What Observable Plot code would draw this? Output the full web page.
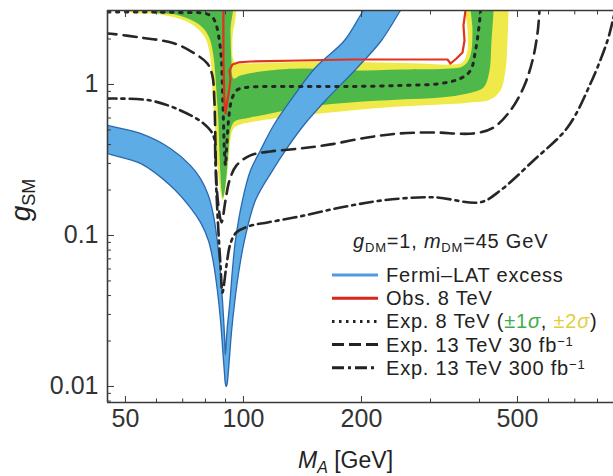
<!DOCTYPE html>
<html><head><meta charset="utf-8">
<script src="https://cdn.jsdelivr.net/npm/d3@7"></script>
<script src="https://cdn.jsdelivr.net/npm/@observablehq/plot@0.6"></script>
<style>
html,body{margin:0;padding:0;background:#fff;}
#wrap{position:relative;width:613px;height:476px;font-family:"Liberation Sans",Arial,sans-serif;}
#overlay{position:absolute;left:0;top:0;pointer-events:none;}
</style></head><body><div id="wrap"></div>
<script>
// ---- axis data ----
const xDomain = [45, 878.8];
const yDomain = [0.00783, 3.09];
const xMajor = [50, 100, 200, 500];
const xMinor = [60, 70, 80, 90, 300, 400, 600, 700, 800];
const yMajor = [0.01, 0.1, 1];
const yMinor = [0.008, 0.009, 0.02, 0.03, 0.04, 0.05, 0.06, 0.07, 0.08, 0.09, 0.2, 0.3, 0.4, 0.5, 0.6, 0.7, 0.8, 0.9, 2, 3];

// ---- curves: [M_A (GeV), g_SM] ----
const yellowBand = [
[50.6,4],[50.6,3.09],[61.4,2.908],[70.7,2.65],[76.3,2.349],[80.0,2.02],[81.9,1.629],[82.9,1.238],[83.3,0.913],[84.3,0.577],[85.3,0.366],[86.3,0.250],[87.4,0.193],[88.4,0.171],[89.4,0.184],[90.5,0.231],[91.6,0.314],[92.6,0.426],[94.3,0.511],[98.2,0.543],[110.5,0.577],[139.8,0.623],[187.5,0.673],[251.5,0.715],[318.1,0.737],[379.4,0.760],[426.7,0.796],[452.5,0.913],[466.0,1.238],[471.5,1.956],[474.2,3.09],[474.2,4],
[372.8,4],[372.8,2.28],[372.8,1.680],[362.0,1.399],[337.4,1.356],[282.8,1.377],[223.6,1.399],[166.7,1.420],[124.3,1.399],[101.2,1.377],[96.0,1.377],[94.3,1.442],[93.7,1.956],[93.7,4]
];
const greenBand = [
[57.9,4],[57.9,3.09],[67.1,2.908],[74.1,2.65],[79.1,2.349],[81.9,2.02],[83.8,1.556],[84.8,1.147],[85.3,0.913],[86.3,0.577],[86.8,0.366],[87.4,0.250],[87.9,0.199],[88.6,0.177],[89.4,0.193],[90.5,0.250],[91.6,0.366],[92.6,0.496],[94.85,0.569],[101.2,0.595],[117.2,0.643],[139.8,0.704],[187.5,0.760],[251.5,0.796],[318.1,0.820],[372.8,0.872],[409.5,0.955],[424.2,1.238],[429.2,1.956],[434.3,3.09],[434.3,4],
[383.9,4],[383.9,2.279],[381.6,1.680],[375.0,1.442],[362.0,1.316],[337.4,1.276],[251.5,1.257],[187.5,1.238],[139.8,1.276],[110.5,1.219],[98.2,1.147],[94.3,1.096],[93.2,1.442],[92.65,2.279],[92.65,4]
];
const fermiLeftHi = [[44,0.545],[45,0.535],[54.6,0.474],[65.1,0.377],[73.2,0.291],[77.7,0.238],[81.4,0.184],[84.3,0.126],[86.8,0.0683],[88.4,0.0371],[89.5,0.0215],[89.9,0.0162]];
const fermiRightHi = [[90.8,0.0235],[92.4,0.0371],[93.7,0.0586],[95.4,0.0927],[99.4,0.171],[104.2,0.269],[110.5,0.366],[119.3,0.535],[131.8,0.783],[152.7,1.296],[181,1.956],[202.3,3.09],[218,4]];
const fermiRightLo = [[90.4,0.0100],[90.9,0.0105],[91.5,0.0125],[92.2,0.0160],[93.3,0.0235],[95.1,0.0371],[97.4,0.0586],[100.6,0.0927],[107.3,0.171],[118.6,0.269],[128.0,0.366],[142.3,0.535],[161.9,0.783],[195.4,1.296],[224.9,1.956],[251.5,3.09],[268.6,4]];
const fermiLeftLo = [[44,0.36],[45,0.349],[54.6,0.300],[65.1,0.214],[73.2,0.153],[77.7,0.122],[81.4,0.0927],[83.8,0.0663],[85.8,0.0432],[87.4,0.0274],[88.6,0.0170],[89.4,0.0125],[89.9,0.0105]];
const obs8 = [[88.9,4],[88.9,1.442],[89.4,0.783],[90.0,0.643],[91.0,0.783],[92.1,0.941],[92.65,1.096],[92.1,1.238],[93.7,1.356],[97.1,1.399],[104.2,1.420],[139.8,1.442],[187.5,1.464],[251.5,1.464],[331.5,1.464],[337.4,1.377],[349.5,1.486],[362.0,1.629],[366.3,1.956],[364.1,2.459],[368.4,3.09],[368.4,4]];
const exp8 = [[45,3.02],[69.1,3.0],[80.0,2.95],[83.3,2.80],[85.3,2.46],[86.8,1.956],[87.9,1.442],[88.4,0.913],[88.9,0.577],[89.4,0.366],[90.0,0.291],[90.5,0.366],[91.6,0.577],[93.2,0.783],[96.0,0.913],[101.2,0.955],[117.2,0.970],[139.8,0.970],[187.5,0.970],[251.5,0.985],[318.1,1.015],[357.7,1.096],[379.4,1.238],[390.7,1.680],[397.7,2.279],[402.3,3.09],[402.3,4]];
const exp13_30 = [[44,2.18],[45,2.177],[54.6,2.047],[66.7,1.869],[75.0,1.604],[80.9,1.377],[83.3,1.147],[84.3,0.783],[84.8,0.426],[85.3,0.231],[86.3,0.158],[87.9,0.122],[90.0,0.171],[92.1,0.231],[96.0,0.291],[104.2,0.339],[117.2,0.360],[139.8,0.377],[166.7,0.401],[207.1,0.446],[251.5,0.474],[305.3,0.481],[386.1,0.474],[434.3,0.519],[479.8,0.673],[518.1,0.955],[546.1,1.442],[562.3,2.177],[569.0,3.09],[572.4,4]];
const exp13_300 = [[44,0.81],[45,0.808],[57.9,0.783],[69.1,0.673],[79.1,0.552],[83.8,0.459],[84.8,0.314],[85.3,0.199],[86.3,0.108],[87.4,0.0633],[88.4,0.0419],[90.5,0.0633],[92.65,0.0885],[96.0,0.105],[104.2,0.116],[115.2,0.122],[139.8,0.134],[176.8,0.153],[227.6,0.171],[305.3,0.179],[402.3,0.166],[452.5,0.199],[549.4,0.314],[670.7,0.519],[767.7,1.015],[848.4,1.956],[878.8,2.778],[894.3,3.336]];

// ---- build ----
const pts = arr => arr.map(([M, g]) => ({M, g}));
const fermiBand = [...fermiLeftHi, ...fermiRightHi, ...fermiRightLo.slice().reverse(), ...fermiLeftLo.slice().reverse()];
const ink = "#3a3a3a";
const noLabel = () => "";

const chart = Plot.plot({
  width: 613, height: 476,
  marginLeft: 107, marginRight: 0, marginTop: 10, marginBottom: 74,
  style: {fontFamily: "'Liberation Sans', Arial, sans-serif", fontSize: "25px", background: "white", color: "#333", overflow: "visible"},
  x: {type: "log", domain: xDomain},
  y: {type: "log", domain: yDomain},
  marks: [
    Plot.line(pts(yellowBand), {x: "M", y: "g", fill: "#efe94a", stroke: "none", curve: "catmull-rom-closed", clip: true}),
    Plot.line(pts(greenBand), {x: "M", y: "g", fill: "#4fb84a", stroke: "none", curve: "catmull-rom-closed", clip: true}),
    Plot.line(pts(fermiBand), {x: "M", y: "g", fill: "#5eace6", stroke: "#2a68ae", strokeWidth: 1.3, curve: "catmull-rom-closed", clip: true}),
    Plot.line(pts(exp13_30), {x: "M", y: "g", stroke: "#262626", strokeWidth: 2.6, strokeDasharray: "13,7", curve: "catmull-rom", clip: true}),
    Plot.line(pts(exp13_300), {x: "M", y: "g", stroke: "#262626", strokeWidth: 2.6, strokeDasharray: "13,5,3,5", curve: "catmull-rom", clip: true}),
    Plot.line(pts(exp8), {x: "M", y: "g", stroke: "#262626", strokeWidth: 3, strokeDasharray: "2.5,6.5", curve: "catmull-rom", clip: true}),
    Plot.line(pts(obs8), {x: "M", y: "g", stroke: "#e2321c", strokeWidth: 2.2, curve: "linear", clip: true}),
    Plot.ruleX([xDomain[0]], {stroke: ink, strokeWidth: 1.6}),
    Plot.ruleY(yDomain, {stroke: ink, strokeWidth: 1.6}),
    Plot.axisX(xMajor, {anchor: "bottom", ticks: xMajor, tickSize: -6, tickPadding: 13, text: d => String(d), label: null, stroke: ink}),
    Plot.axisX(xMinor, {anchor: "bottom", tickSize: -3.5, tickFormat: noLabel, label: null, stroke: ink}),
    Plot.axisX(xMajor, {anchor: "top", tickSize: -6, tickFormat: noLabel, label: null, stroke: ink}),
    Plot.axisX(xMinor, {anchor: "top", tickSize: -3.5, tickFormat: noLabel, label: null, stroke: ink}),
    Plot.axisY(yMajor, {anchor: "left", ticks: yMajor, tickSize: -7, tickPadding: 16, text: d => String(d), label: null, stroke: ink}),
    Plot.axisY(yMinor, {anchor: "left", tickSize: -4, tickFormat: noLabel, label: null, stroke: ink})
  ]
});

const wrap = document.getElementById("wrap");
wrap.appendChild(chart);

// ---- overlay: axis titles and legend ----
const legendRows = [
  {y: 275, stroke: "#4e9be0", width: 3, dash: null},
  {y: 298.2, stroke: "#d8261e", width: 3, dash: null},
  {y: 321.4, stroke: "#222", width: 3, dash: "2.5,4.5"},
  {y: 344.6, stroke: "#222", width: 3, dash: "12,5"},
  {y: 367.8, stroke: "#222", width: 3, dash: "12,4,3,4"}
];
const legendTexts = [
  'Fermi\u2013LAT excess',
  'Obs. 8 TeV',
  'Exp. 8 TeV (<tspan fill="#3fae45">\u00b11<tspan font-style="italic">\u03c3</tspan></tspan>, <tspan fill="#e3cf3c">\u00b12<tspan font-style="italic">\u03c3</tspan></tspan>)',
  'Exp. 13 TeV 30 fb<tspan font-size="13" dy="-6">\u22121</tspan>',
  'Exp. 13 TeV 300 fb<tspan font-size="13" dy="-6">\u22121</tspan>'
];
let s = '<svg id="overlay" width="613" height="476" xmlns="http://www.w3.org/2000/svg" font-family="\'Liberation Sans\', Arial, sans-serif" fill="#222">';
s += '<text transform="translate(30,200) rotate(-90)" text-anchor="middle" font-size="28"><tspan font-style="italic">g</tspan><tspan font-size="18" dy="5">SM</tspan></text>';
s += '<text x="298" y="468" font-size="23"><tspan font-style="italic">M</tspan><tspan font-style="italic" font-size="16" dy="5">A</tspan><tspan dy="-5"> [GeV]</tspan></text>';
s += '<text x="353" y="248" font-size="20" letter-spacing="0.8"><tspan font-style="italic">g</tspan><tspan font-size="13" dy="4">DM</tspan><tspan dy="-4">=1, </tspan><tspan font-style="italic">m</tspan><tspan font-size="13" dy="4">DM</tspan><tspan dy="-4">=45 GeV</tspan></text>';
legendRows.forEach((r, i) => {
  s += `<line x1="332" x2="378" y1="${r.y}" y2="${r.y}" stroke="${r.stroke}" stroke-width="${r.width}"${r.dash ? ` stroke-dasharray="${r.dash}"` : ""}/>`;
  s += `<text x="386" y="${r.y + 7}" font-size="20" letter-spacing="0.8">${legendTexts[i]}</text>`;
});
s += '</svg>';
wrap.insertAdjacentHTML("beforeend", s);
</script></body></html>
